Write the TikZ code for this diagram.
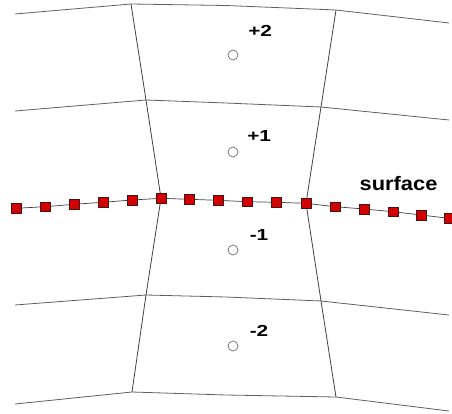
\documentclass[tikz,border=0pt]{standalone}
\usepackage{fontspec}
\setmainfont{Liberation Sans}
\definecolor{gridc}{RGB}{95,95,95}
\definecolor{sqred}{RGB}{210,0,0}
\definecolor{sqedge}{RGB}{70,20,20}
\definecolor{circc}{RGB}{110,110,110}
\tikzset{
  gridline/.style={draw=gridc, line width=0.8pt, line join=round},
  surfline/.style={draw=black!75, line width=0.7pt},
  sq/.style={rectangle, fill=sqred, draw=sqedge, line width=0.5pt, minimum size=9.5pt, inner sep=0pt},
  cell/.style={circle, draw=circc, fill=white, line width=0.7pt, minimum size=10pt, inner sep=0pt},
  lbl/.style={anchor=base west, inner sep=0pt, font=\bfseries\fontsize{16}{19}\selectfont, xscale=1.3},
  surflbl/.style={anchor=base west, inner sep=0pt, font=\bfseries\fontsize{19.5}{22}\selectfont, xscale=1.12}
}
\begin{document}
\begin{tikzpicture}[x=1pt,y=-1pt]
\useasboundingbox (0,0) rectangle (452,414);
% grid coordinates
\coordinate (L0) at (15,14);  \coordinate (A0) at (131,4);  \coordinate (M0) at (226,5.5); \coordinate (B0) at (336,10);  \coordinate (R0) at (449,23);
\coordinate (L1) at (15,111); \coordinate (A1) at (146,100); \coordinate (M1) at (226,103); \coordinate (B1) at (321,107); \coordinate (R1) at (449,120);
\coordinate (L3) at (15,305); \coordinate (A3) at (146,295); \coordinate (M3) at (226,297); \coordinate (B3) at (321,301); \coordinate (R3) at (449,315);
\coordinate (L4) at (15,404); \coordinate (A4) at (132,392); \coordinate (M4) at (226,395); \coordinate (B4) at (336,397); \coordinate (R4) at (449,411);
% horizontal grid lines
\draw[gridline] (L0) -- (A0) -- (M0) -- (B0) -- (R0);
\draw[gridline] (L1) -- (A1) -- (M1) -- (B1) -- (R1);
\draw[gridline] (L3) -- (A3) -- (M3) -- (B3) -- (R3);
\draw[gridline] (L4) -- (A4) -- (M4) -- (B4) -- (R4);
% surface points
\foreach \i/\x/\y in {1/16/208.3,2/45/206.7,3/74/204.3,4/103/202.3,5/132/200,6/161/198.3,7/189/199.3,8/218/200.3,
  9/247/201.7,10/276/202.3,11/306/203.3,12/335/206.7,13/364/209,14/393/211.7,15/421/215,16/449/218.3}
  \coordinate (s\i) at (\x,\y);
\draw[surfline] (s1) \foreach \i in {2,...,16} { -- (s\i) };
% vertical grid lines
\draw[gridline, draw=black!75] (A0) -- (A1) -- (s6) -- (A3) -- (A4);
\draw[gridline, draw=black!75] (B0) -- (B1) -- (s11) -- (B3) -- (B4);
% squares
\foreach \i in {1,...,16} \node[sq] (q\i) at (s\i) {};
% cell centres
\node[cell] (c2) at (233,55) {};
\node[cell] (c1) at (233,152) {};
\node[cell] (cm1) at (233,250) {};
\node[cell] (cm2) at (233,346) {};
% labels
\node[lbl] (t2) at (248,36.5) {+2};
\node[lbl] (t1) at (247,141.5) {+1};
\node[lbl] (tm1) at (249.5,240) {-1};
\node[lbl] (tm2) at (249.5,336) {-2};
\node[surflbl] (ts) at (359.5,190.5) {surface};
\end{tikzpicture}
\end{document}
